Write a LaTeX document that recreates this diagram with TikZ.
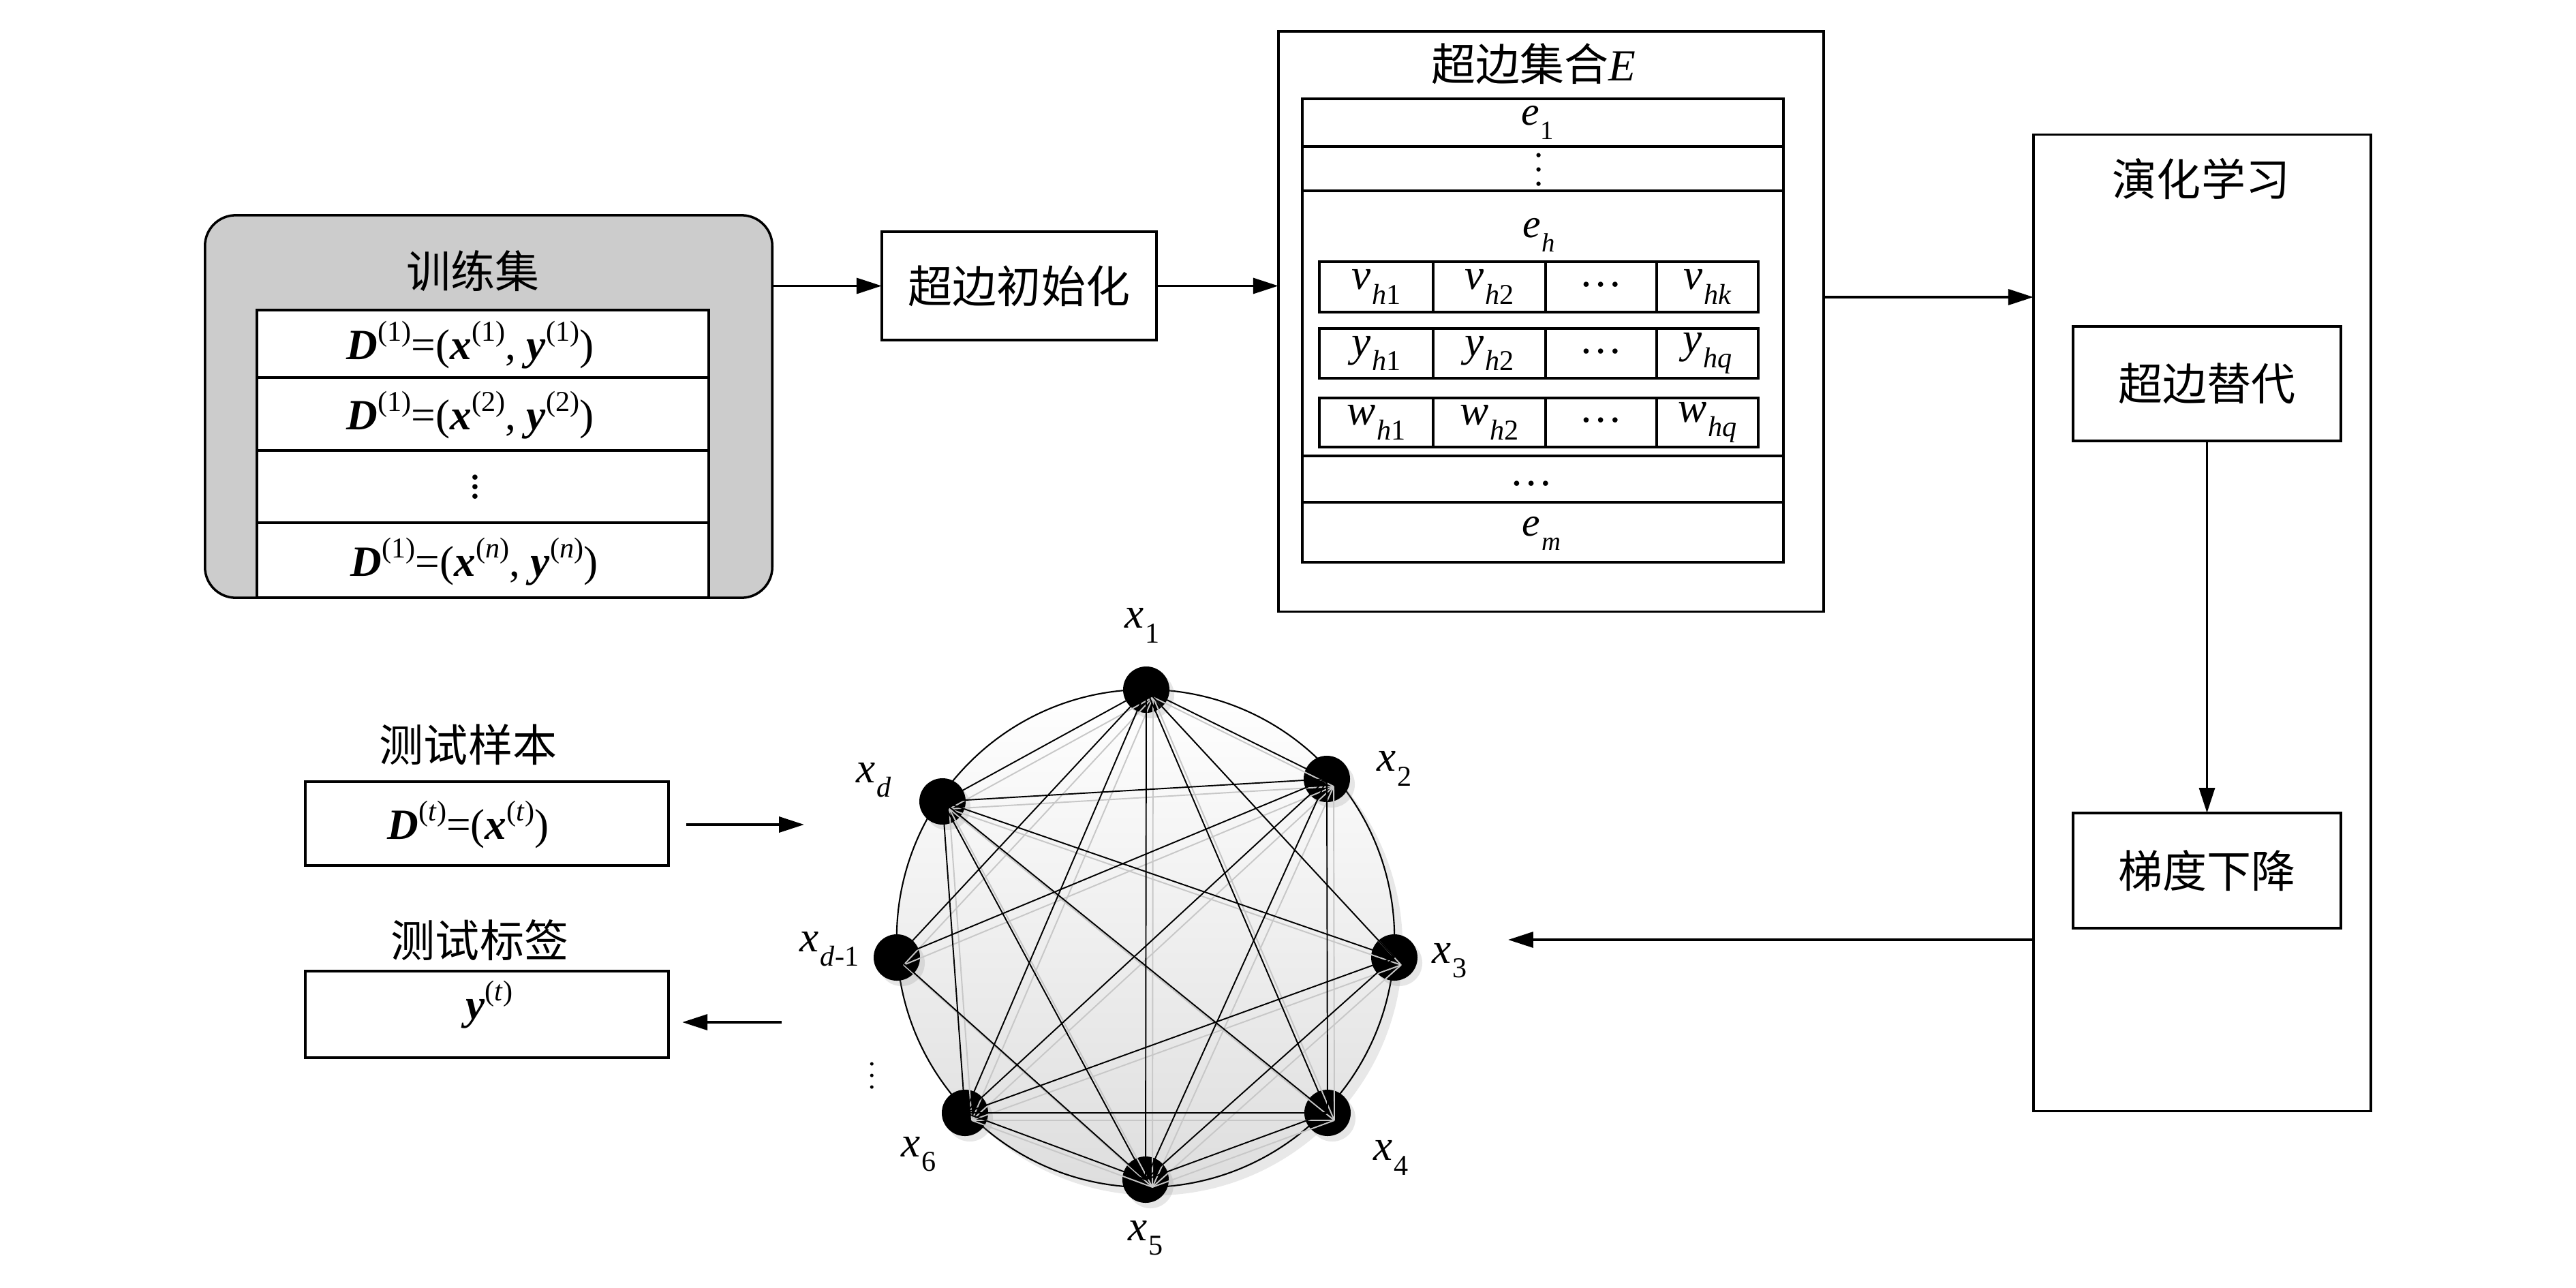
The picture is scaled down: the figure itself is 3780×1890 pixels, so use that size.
\documentclass[tikz,border=0pt]{standalone}
\usepackage{fontspec}
\setmainfont{Liberation Serif}
\newfontfamily\cjk{Noto Sans CJK SC}
\usetikzlibrary{arrows.meta,shadows,calc}
\newcommand\cn[1]{{\cjk\fontsize{18.5}{22}\selectfont #1}}
\newcommand\bi[1]{{\bfseries\itshape #1}}
\newcommand\sps[1]{\raisebox{7.5pt}{\fontsize{12}{13}\selectfont(#1)}}
\newcommand\vs[2]{{\fontsize{18}{20}\selectfont\itshape #1}\kern0.6pt\raisebox{-6pt}{\fontsize{12}{14}\selectfont #2}}
\newcommand\es[2]{{\fontsize{17}{20}\selectfont\itshape #1}\kern0.6pt\raisebox{-6pt}{\fontsize{11}{13}\selectfont #2}}
\newcommand\mrow[1]{{\fontsize{18}{21}\selectfont #1}}
\tikzset{
  box/.style={draw, line width=1pt, inner sep=0pt, outer sep=0pt},
  cell/.style={draw, fill=white, line width=1pt, inner sep=0pt, outer sep=0pt},
  arr/.style={-{Triangle[length=10.5pt,width=6.5pt]}, line width=1.1pt},
  eline/.style={line width=0.55pt, black},
  gline/.style={line width=0.55pt, black!22},
  vtx/.style={circle, fill=black, minimum size=0.68cm, inner sep=0pt,
    drop shadow={shadow xshift=0.07cm, shadow yshift=-0.08cm, opacity=0.2}},
  lbl/.style={inner sep=0pt},
}
\begin{document}
\begin{tikzpicture}[x=0.01cm,y=-0.01cm]
\useasboundingbox (0,0) rectangle (3780,1890);

% ---------------- training set ----------------
\node[box, fill=black!20, rounded corners=0.45cm, minimum width=8.32cm, minimum height=5.61cm] (train) at (717,596.5) {};
\node[lbl] (traint) at (694,398) {\cn{训练集}};
\node[cell, minimum width=6.63cm, minimum height=0.99cm] (r1) at (708.5,504.5) {};
\node[cell, minimum width=6.63cm, minimum height=1.07cm] (r2) at (708.5,607.5) {};
\node[cell, minimum width=6.63cm, minimum height=1.06cm] (r3) at (708.5,714) {};
\node[cell, minimum width=6.63cm, minimum height=1.10cm] (r4) at (708.5,822) {};
\node[lbl] (r1t) at (690,506) {\mrow{\bi{D}\sps{1}=(\bi{x}\sps{1}, \bi{y}\sps{1})}};
\node[lbl] (r2t) at (690,609) {\mrow{\bi{D}\sps{1}=(\bi{x}\sps{2}, \bi{y}\sps{2})}};
\node[lbl] (r3t) at (697,704) {\mrow{$\vdots$}};
\node[lbl] (r4t) at (696,824) {\mrow{\bi{D}\sps{1}=(\bi{x}\sps{\textit{n}}, \bi{y}\sps{\textit{n}})}};

% ---------------- init ----------------
\node[box, minimum width=4.03cm, minimum height=1.59cm] (init) at (1495.5,419.5) {\cn{超边初始化}};
\draw[arr] (train.east |- init.west) -- (init.west);

% ---------------- hyperedge set ----------------
\node[box, minimum width=8.00cm, minimum height=8.51cm] (E) at (2276,471.5) {};
\node[lbl] (Et) at (2250,94) {\cn{超边集合}{\fontsize{18.5}{22}\selectfont\itshape E}};
\draw[arr] (init.east) -- (init.east -| E.west);
\node[cell, minimum width=7.06cm, minimum height=0.70cm] (e1) at (2264,180) {};
\node[cell, minimum width=7.06cm, minimum height=0.65cm] (ed) at (2264,247.5) {};
\node[cell, minimum width=7.06cm, minimum height=3.89cm] (eh) at (2264,474.5) {};
\node[cell, minimum width=7.06cm, minimum height=0.68cm] (ed2) at (2264,703) {};
\node[cell, minimum width=7.06cm, minimum height=0.88cm] (em) at (2264,781) {};
\node[lbl] (e1t) at (2256,180) {\es{e}{1}};
\node[lbl, scale=1.5] (edt) at (2258,233) {$\vdots$};
\node[lbl] (eht) at (2258,345) {\es{e}{\textit{h}}};
\node[lbl] (ed2t) at (2247,710) {\fontsize{18}{20}\selectfont …};
\node[lbl] (emt) at (2262,783) {\es{e}{\textit{m}}};
% sub table cells
\foreach \r/\yy/\hh in {v/421/0.74, y/518.5/0.73, w/620/0.72}{
  \node[cell, minimum width=1.67cm, minimum height=\hh cm] (\r1) at (2019.5,\yy) {};
  \node[cell, minimum width=1.65cm, minimum height=\hh cm] (\r2) at (2185.5,\yy) {};
  \node[cell, minimum width=1.63cm, minimum height=\hh cm] (\r3) at (2349.5,\yy) {};
  \node[cell, minimum width=1.49cm, minimum height=\hh cm] (\r4) at (2505.5,\yy) {};
}
\node[lbl] at (v1) {\vs{v}{\textit{h}1}};
\node[lbl] at (v2) {\vs{v}{\textit{h}2}};
\node[lbl] at ([yshift=0.03cm]v3) {\fontsize{18}{20}\selectfont …};
\node[lbl] at (v4) {\vs{v}{\textit{hk}}};
\node[lbl] at (y1) {\vs{y}{\textit{h}1}};
\node[lbl] at (y2) {\vs{y}{\textit{h}2}};
\node[lbl] at ([yshift=0.03cm]y3) {\fontsize{18}{20}\selectfont …};
\node[lbl] at (y4) {\vs{y}{\textit{hq}}};
\node[lbl] at (w1) {\vs{w}{\textit{h}1}};
\node[lbl] at (w2) {\vs{w}{\textit{h}2}};
\node[lbl] at ([yshift=0.03cm]w3) {\fontsize{18}{20}\selectfont …};
\node[lbl] at (w4) {\vs{w}{\textit{hq}}};

% ---------------- evolution learning ----------------
\node[box, minimum width=4.95cm, minimum height=14.32cm] (evo) at (3231.5,914) {};
\node[lbl] (evot) at (3230,262) {\cn{演化学习}};
\node[box, minimum width=3.93cm, minimum height=1.68cm] (rep) at (3238.5,563) {\cn{超边替代}};
\node[box, minimum width=3.93cm, minimum height=1.69cm] (grad) at (3238.5,1277.5) {\cn{梯度下降}};
\draw[arr] ([yshift=0.355cm]E.east) -- ([yshift=0.355cm]E.east -| evo.west);
\draw[arr] (rep.south) -- (grad.north);
\coordinate (inarr) at (2213,1379);
\draw[arr] (evo.west |- inarr) -- (inarr);

% ---------------- test sample / label ----------------
\node[lbl] (testt) at (687,1093) {\cn{测试样本}};
\node[box, minimum width=5.33cm, minimum height=1.23cm] (test) at (714.5,1208.5) {};
\node[lbl] (testx) at (687,1210) {\mrow{\bi{D}\sps{\textit{t}}=(\bi{x}\sps{\textit{t}})}};
\node[lbl] (labt) at (704,1380) {\cn{测试标签}};
\node[box, minimum width=5.33cm, minimum height=1.27cm] (lab) at (714.5,1488.5) {};
\node[lbl] (labx) at (718,1474) {\mrow{\bi{y}\sps{\textit{t}}}};
\coordinate (tin) at (1180,1210);
\coordinate (tout) at (1147,1500);
\draw[arr] ([xshift=0.26cm]test.east |- tin) -- (tin);
\draw[arr] (tout) -- ([xshift=0.2cm]lab.east |- tout);

% ---------------- graph ----------------
\node[circle, draw, line width=0.6pt, minimum size=7.3cm, inner sep=0pt, top color=white, bottom color=black!13,
  drop shadow={shadow xshift=0.12cm, shadow yshift=-0.12cm, opacity=0.18}] (ring) at (1681,1377) {};
\node[vtx] (n1) at (1682,1012) {};
\node[vtx] (n2) at (1947,1143) {};
\node[vtx] (n3) at (2046,1405) {};
\node[vtx] (n4) at (1948,1633) {};
\node[vtx] (n5) at (1681,1731) {};
\node[vtx] (n6) at (1416,1633) {};
\node[vtx] (nd1) at (1316,1405) {};
\node[vtx] (nd) at (1383,1176) {};
\foreach \a/\b in {n1/n2,n1/n3,n1/n4,n1/n5,n1/n6,n1/nd1,n1/nd,n2/nd,n2/nd1,n2/n6,n2/n5,n2/n4,n3/nd,n3/n6,n3/n5,n4/nd,n4/n6,n4/n5,n5/n6,n5/nd,n5/nd1,n6/nd}
  \draw[gline] ([shift={(0.1cm,-0.11cm)}]\a.center) -- ([shift={(0.1cm,-0.11cm)}]\b.center);
\foreach \a/\b in {n1/n2,n1/n3,n1/n4,n1/n5,n1/n6,n1/nd1,n1/nd,n2/nd,n2/nd1,n2/n6,n2/n5,n2/n4,n3/nd,n3/n6,n3/n5,n4/nd,n4/n6,n4/n5,n5/n6,n5/nd,n5/nd1,n6/nd}
  \draw[eline] (\a.center) -- (\b.center);
\node[lbl] (l1) at (1676,918) {\vs{x}{1}};
\node[lbl] (l2) at (2046,1128) {\vs{x}{2}};
\node[lbl] (l3) at (2127,1410) {\vs{x}{3}};
\node[lbl] (l4) at (2041,1699) {\vs{x}{4}};
\node[lbl] (l5) at (1681,1817) {\vs{x}{5}};
\node[lbl] (l6) at (1348,1694) {\vs{x}{6}};
\node[lbl] (ld1) at (1217,1393) {\vs{x}{\textit{d}-1}};
\node[lbl] (ld) at (1282,1145) {\vs{x}{\textit{d}}};
\node[lbl, scale=1.2] (ldots) at (1280,1566) {$\vdots$};
\end{tikzpicture}
\end{document}
